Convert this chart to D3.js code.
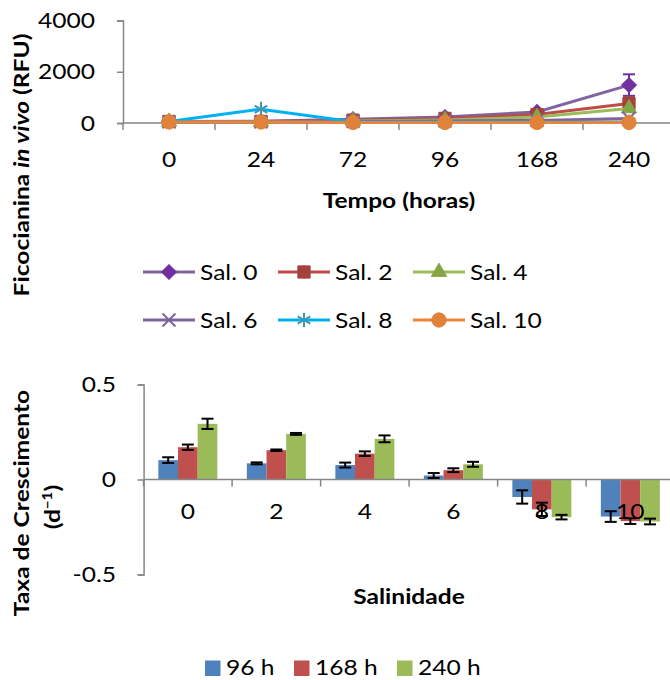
<!DOCTYPE html>
<html>
<head>
    <meta charset="utf-8">
    <title>Ficocianina e taxa de crescimento</title>
    <script src="https://d3js.org/d3.v7.min.js"></script>
    <style>
        body { margin: 0; background: #fff; }
        text { font-family: Lato, "Open Sans", sans-serif; fill: #000; }
    </style>
</head>
<body>
<svg width="670" height="680"></svg>
<script>
    // top chart: ficocianina in vivo (RFU)
    const hours = ["0", "24", "72", "96", "168", "240"];
    const sal0 = [60, 70, 150, 230, 430, 1480];
    const sal2 = [60, 60, 110, 180, 330, 760];
    const sal4 = [50, 40, 80, 120, 230, 570];
    const sal6 = [40, 40, 60, 80, 100, 180];
    const sal8 = [60, 540, 50, 40, 40, 40];
    const sal10 = [40, 40, 20, 20, 20, 20];
    const sal0Err = [10, 10, 20, 20, 40, 420];
    const sal2Err = [10, 10, 20, 20, 40, 240];
    const rfuTicks = [0, 2000, 4000];

    // bottom chart: taxa de crescimento (d-1)
    const salinities = ["0", "2", "4", "6", "8", "10"];
    const rate96 = [0.102, 0.085, 0.076, 0.021, -0.092, -0.195];
    const rate168 = [0.170, 0.154, 0.136, 0.049, -0.157, -0.219];
    const rate240 = [0.293, 0.240, 0.214, 0.080, -0.198, -0.221];
    const err96 = [0.015, 0.005, 0.013, 0.013, 0.035, 0.028];
    const err168 = [0.014, 0.004, 0.012, 0.010, 0.035, 0.015];
    const err240 = [0.027, 0.005, 0.018, 0.013, 0.012, 0.015];
    const rateTicks = [-0.5, 0, 0.5];
    const rateLabels = ["-0.5", "0", "0.5"];

    const svg = d3.select("svg");
    svg.append("rect").attr("width", 670).attr("height", 680).attr("fill", "#fff");

    const axisColor = "#868686";
    const fontSize = 21;
    const sx = 1.17; // the original figure is stretched sideways

    // text helper, stretched along its own direction
    function label(g, x, y, str, anchor, rotate) {
        return g.append("text")
            .attr("transform", `translate(${x},${y})` + (rotate ? " rotate(-90)" : "") + ` scale(${sx},1)`)
            .attr("text-anchor", anchor || "start")
            .attr("font-size", fontSize)
            .text(str);
    }

    // ---------- top chart ----------
    const series = [
        {name: "Sal. 0", values: sal0, err: sal0Err, line: "#8064A2", fill: "#7030A0", shape: "diamond"},
        {name: "Sal. 2", values: sal2, err: sal2Err, line: "#BE4B48", fill: "#A5403D", shape: "square"},
        {name: "Sal. 4", values: sal4, err: null, line: "#9BBB59", fill: "#84A544", shape: "triangle"},
        {name: "Sal. 6", values: sal6, err: null, line: "#7F63A1", fill: "#7F63A1", shape: "x"},
        {name: "Sal. 8", values: sal8, err: null, line: "#00B0F0", fill: "#4198AF", shape: "asterisk"},
        {name: "Sal. 10", values: sal10, err: null, line: "#E8843B", fill: "#E0823A", shape: "circle"}
    ];

    const x1 = d3.scaleBand().domain(hours).range([123, 675]).padding(0);
    const y1 = d3.scaleLinear().domain([0, 4000]).range([123, 20.5]);

    const topChart = svg.append("g");

    const yAxis1 = topChart.append("g")
        .attr("transform", "translate(123,0)")
        .call(d3.axisLeft(y1).tickValues(rfuTicks).tickSize(6).tickFormat(""));
    yAxis1.select(".domain").attr("stroke", axisColor).attr("stroke-width", 1.5);
    yAxis1.selectAll(".tick line").attr("stroke", axisColor).attr("stroke-width", 1.5);
    rfuTicks.forEach(t => label(topChart, 95, y1(t) + 7.5, String(t), "end"));

    // category axis with ticks between categories
    topChart.append("line")
        .attr("x1", 123).attr("x2", 675)
        .attr("y1", y1(0)).attr("y2", y1(0))
        .attr("stroke", axisColor).attr("stroke-width", 1.5);
    topChart.selectAll(".xtick")
        .data(hours)
        .join("line")
        .attr("class", "xtick")
        .attr("x1", d => x1(d)).attr("x2", d => x1(d))
        .attr("y1", y1(0)).attr("y2", y1(0) + 7)
        .attr("stroke", axisColor).attr("stroke-width", 1.5);
    hours.forEach(h => label(topChart, x1(h) + x1.bandwidth() / 2, 167, h, "middle"));

    label(topChart, 399, 208, "Tempo (horas)", "middle").attr("font-weight", "bold");

    const yTitle1 = label(topChart, 29, 165, "", "middle", true).attr("font-weight", "bold");
    yTitle1.append("tspan").text("Ficocianina ");
    yTitle1.append("tspan").attr("font-style", "italic").text("in vivo");
    yTitle1.append("tspan").text(" (RFU)");

    const cx = i => x1(hours[i]) + x1.bandwidth() / 2;
    const line = d3.line().x((d, i) => cx(i)).y(d => y1(d));

    function markerPath(shape) {
        if (shape === "diamond") return d3.symbol(d3.symbolSquare, 110)();
        if (shape === "square") return d3.symbol(d3.symbolSquare, 150)();
        if (shape === "triangle") return d3.symbol(d3.symbolTriangle, 100)();
        if (shape === "x") return d3.symbol(d3.symbolX, 110)();
        if (shape === "asterisk") return d3.symbol(d3.symbolAsterisk, 150)();
        return d3.symbol(d3.symbolCircle, 160)();
    }

    function drawMarker(g, s, x, y) {
        const stroked = s.shape === "x" || s.shape === "asterisk";
        g.append("path")
            .attr("d", markerPath(s.shape))
            .attr("transform", `translate(${x},${y})` + (s.shape === "diamond" ? " rotate(45)" : ""))
            .attr("fill", stroked ? "none" : s.fill)
            .attr("stroke", s.fill)
            .attr("stroke-width", stroked ? 2 : 1);
    }

    const plot1 = topChart.append("g");
    series.forEach(s => {
        const g = plot1.append("g");
        if (s.err) {
            s.values.forEach((v, i) => {
                const e = s.err[i];
                const eg = g.append("g").attr("stroke", s.fill).attr("stroke-width", 2);
                eg.append("line").attr("x1", cx(i)).attr("x2", cx(i)).attr("y1", y1(v - e)).attr("y2", y1(v + e));
                eg.append("line").attr("x1", cx(i) - 6).attr("x2", cx(i) + 6).attr("y1", y1(v - e)).attr("y2", y1(v - e));
                eg.append("line").attr("x1", cx(i) - 6).attr("x2", cx(i) + 6).attr("y1", y1(v + e)).attr("y2", y1(v + e));
            });
        }
        g.append("path")
            .datum(s.values)
            .attr("d", line)
            .attr("fill", "none")
            .attr("stroke", s.line)
            .attr("stroke-width", 3);
        s.values.forEach((v, i) => drawMarker(g, s, cx(i), y1(v)));
    });

    // legend top
    const leg1 = svg.append("g");
    series.forEach((s, i) => {
        const lx = 143 + (i % 3) * 135;
        const ly = i < 3 ? 272 : 320;
        const g = leg1.append("g");
        g.append("line")
            .attr("x1", lx).attr("x2", lx + 52)
            .attr("y1", ly).attr("y2", ly)
            .attr("stroke", s.line).attr("stroke-width", 3);
        drawMarker(g, s, lx + 26, ly);
        label(g, lx + 57, ly + 7.5, s.name);
    });

    // ---------- bottom chart ----------
    const times = [
        {name: "96 h", values: rate96, err: err96, color: "#4F81BD"},
        {name: "168 h", values: rate168, err: err168, color: "#C0504D"},
        {name: "240 h", values: rate240, err: err240, color: "#9BBB59"}
    ];

    const x2 = d3.scaleBand().domain(salinities).range([143.6, 674.6]).padding(0);
    const barW = x2.bandwidth() / 4.5;
    const xInner = d3.scaleBand().domain(times.map(t => t.name))
        .range([barW * 0.75, barW * 3.75]).padding(0);
    const y2 = d3.scaleLinear().domain([-0.5, 0.5]).range([574.5, 384.5]);

    const bottomChart = svg.append("g");

    times.forEach(t => {
        bottomChart.append("g")
            .selectAll("rect")
            .data(t.values)
            .join("rect")
            .attr("x", (d, i) => x2(salinities[i]) + xInner(t.name))
            .attr("width", xInner.bandwidth())
            .attr("y", d => Math.min(y2(d), y2(0)))
            .attr("height", d => Math.abs(y2(d) - y2(0)))
            .attr("fill", t.color);
    });

    const yAxis2 = bottomChart.append("g")
        .attr("transform", "translate(143.6,0)")
        .call(d3.axisLeft(y2).tickValues(rateTicks).tickSize(6).tickFormat(""));
    yAxis2.select(".domain").attr("stroke", axisColor).attr("stroke-width", 1.5);
    yAxis2.selectAll(".tick line").attr("stroke", axisColor).attr("stroke-width", 1.5);
    rateTicks.forEach((t, i) => label(bottomChart, 116, y2(t) + 7.5, rateLabels[i], "end"));

    bottomChart.append("line")
        .attr("x1", 143.6).attr("x2", 674.6)
        .attr("y1", y2(0)).attr("y2", y2(0))
        .attr("stroke", axisColor).attr("stroke-width", 1.5);
    bottomChart.selectAll(".xtick2")
        .data(salinities)
        .join("line")
        .attr("class", "xtick2")
        .attr("x1", d => x2(d)).attr("x2", d => x2(d))
        .attr("y1", y2(0)).attr("y2", y2(0) + 7)
        .attr("stroke", axisColor).attr("stroke-width", 1.5);

    // error bars
    times.forEach(t => {
        const eg = bottomChart.append("g").attr("stroke", "#000").attr("stroke-width", 2);
        t.values.forEach((v, i) => {
            const bx = x2(salinities[i]) + xInner(t.name) + xInner.bandwidth() / 2;
            const e = t.err[i];
            eg.append("line").attr("x1", bx).attr("x2", bx).attr("y1", y2(v - e)).attr("y2", y2(v + e));
            eg.append("line").attr("x1", bx - 6).attr("x2", bx + 6).attr("y1", y2(v - e)).attr("y2", y2(v - e));
            eg.append("line").attr("x1", bx - 6).attr("x2", bx + 6).attr("y1", y2(v + e)).attr("y2", y2(v + e));
        });
    });

    salinities.forEach(s => label(bottomChart, x2(s) + x2.bandwidth() / 2, 519, s, "middle"));

    label(bottomChart, 409, 604, "Salinidade", "middle").attr("font-weight", "bold");

    label(bottomChart, 29, 503, "Taxa de Crescimento", "middle", true).attr("font-weight", "bold");
    const dTitle = label(bottomChart, 60, 507, "", "middle", true).attr("font-weight", "bold");
    dTitle.append("tspan").text("(d");
    dTitle.append("tspan").attr("font-size", 13).attr("dy", -8).text("\u22121");
    dTitle.append("tspan").attr("dy", 8).text(")");

    // legend bottom
    const leg2 = svg.append("g");
    const legX = [205, 294, 397];
    times.forEach((t, i) => {
        leg2.append("rect")
            .attr("x", legX[i]).attr("y", 660.5)
            .attr("width", 15.5).attr("height", 15.5)
            .attr("fill", t.color);
        label(leg2, legX[i] + 21, 675, t.name);
    });
</script>
</body>
</html>
